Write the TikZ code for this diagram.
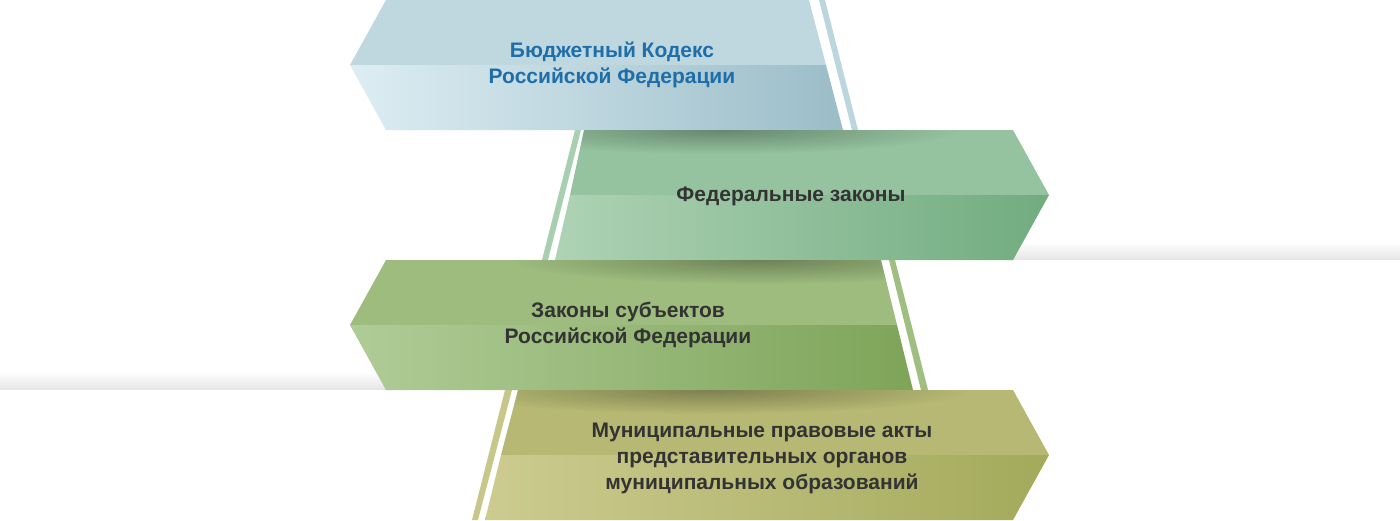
\documentclass[tikz,border=0pt]{standalone}
\usepackage{fontspec}
\setmainfont{Liberation Sans}
\usetikzlibrary{fadings}
\tikzfading[name=blobfade, inner color=transparent!0, outer color=transparent!100]
\definecolor{txt}{HTML}{333333}
\definecolor{txtblue}{HTML}{1F6EA8}
\definecolor{aTop}{HTML}{BFD8E0}
\definecolor{aL}{HTML}{DDEDF3}
\definecolor{aR}{HTML}{9BBDC8}
\definecolor{aS}{HTML}{BCD6DE}
\definecolor{bTop}{HTML}{95C39F}
\definecolor{bL}{HTML}{AED2B5}
\definecolor{bR}{HTML}{71AC7F}
\definecolor{bS}{HTML}{A9CFB1}
\definecolor{cTop}{HTML}{9DBC7E}
\definecolor{cL}{HTML}{AFCC97}
\definecolor{cR}{HTML}{7EA459}
\definecolor{cS}{HTML}{9FBE80}
\definecolor{dTop}{HTML}{B6B873}
\definecolor{dL}{HTML}{CDCB90}
\definecolor{dR}{HTML}{A3AA5B}
\definecolor{dS}{HTML}{C8C78A}
\begin{document}
\begin{tikzpicture}[x=1pt,y=-1pt,
  lbl/.style={font=\bfseries\fontsize{21}{26}\selectfont, text=txt, align=center, inner sep=0pt},
  dropshadow/.style={black, opacity=0.3, path fading=blobfade},
  floorshadow/.style={black!10, path fading=north}]
\useasboundingbox (0,0) rectangle (1400,520);
\fill[white] (0,0) rectangle (1400,520);

% floor shadows
\fill[floorshadow] (1013,242) rectangle (1400,260);
\fill[floorshadow] (0,372) rectangle (386,390);

% ---- shape 1 (blue)
\fill[aS] (819,0) -- (825,0) -- (858,130) -- (852,130) -- cycle;
\fill[aTop] (386,0) -- (809,0) -- (826,65) -- (350,65) -- cycle;
\begin{scope}
  \clip (350,65) -- (826,65) -- (843,130) -- (386,130) -- cycle;
  \shade[left color=aL, right color=aR] (350,65) rectangle (843,130);
\end{scope}
\node[lbl, text=txtblue] (t1) at (612,65) {Бюджетный Кодекс\\Российской Федерации};

% ---- shape 2 (green)
\fill[bS] (575,130) -- (581,130) -- (548,260) -- (542,260) -- cycle;
\fill[bTop] (584,130) -- (1013,130) -- (1049,195) -- (570,195) -- cycle;
\begin{scope}
  \clip (570,195) -- (1049,195) -- (1013,260) -- (555,260) -- cycle;
  \shade[left color=bL, right color=bR] (555,195) rectangle (1049,260);
\end{scope}
\begin{scope}
  \clip (584,130) -- (1013,130) -- (1049,195) -- (570,195) -- cycle;
  \fill[dropshadow] (720,130) ellipse [x radius=240, y radius=24];
\end{scope}
\node[lbl] (t2) at (791,196) {Федеральные законы};

% ---- shape 3 (olive green)
\fill[cS] (889,260) -- (895,260) -- (928,390) -- (921,390) -- cycle;
\fill[cTop] (386,260) -- (881,260) -- (897,325) -- (350,325) -- cycle;
\begin{scope}
  \clip (350,325) -- (897,325) -- (913,390) -- (386,390) -- cycle;
  \shade[left color=cL, right color=cR] (350,325) rectangle (913,390);
\end{scope}
\begin{scope}
  \clip (386,260) -- (881,260) -- (897,325) -- (350,325) -- cycle;
  \fill[dropshadow] (760,260) ellipse [x radius=250, y radius=24];
\end{scope}
\node[lbl] (t3) at (628,325) {Законы субъектов\\Российской Федерации};

% ---- shape 4 (olive)
\fill[dS] (505,390) -- (512,390) -- (478,520) -- (472,520) -- cycle;
\fill[dTop] (518,390) -- (1013,390) -- (1049,455) -- (501,455) -- cycle;
\begin{scope}
  \clip (501,455) -- (1049,455) -- (1013,520) -- (485,520) -- cycle;
  \shade[left color=dL, right color=dR] (485,455) rectangle (1049,520);
\end{scope}
\begin{scope}
  \clip (518,390) -- (1013,390) -- (1049,455) -- (501,455) -- cycle;
  \fill[dropshadow] (710,390) ellipse [x radius=260, y radius=24];
\end{scope}
\node[lbl] (t4) at (762,458) {Муниципальные правовые акты\\представительных органов\\муниципальных образований};
\end{tikzpicture}
\end{document}
